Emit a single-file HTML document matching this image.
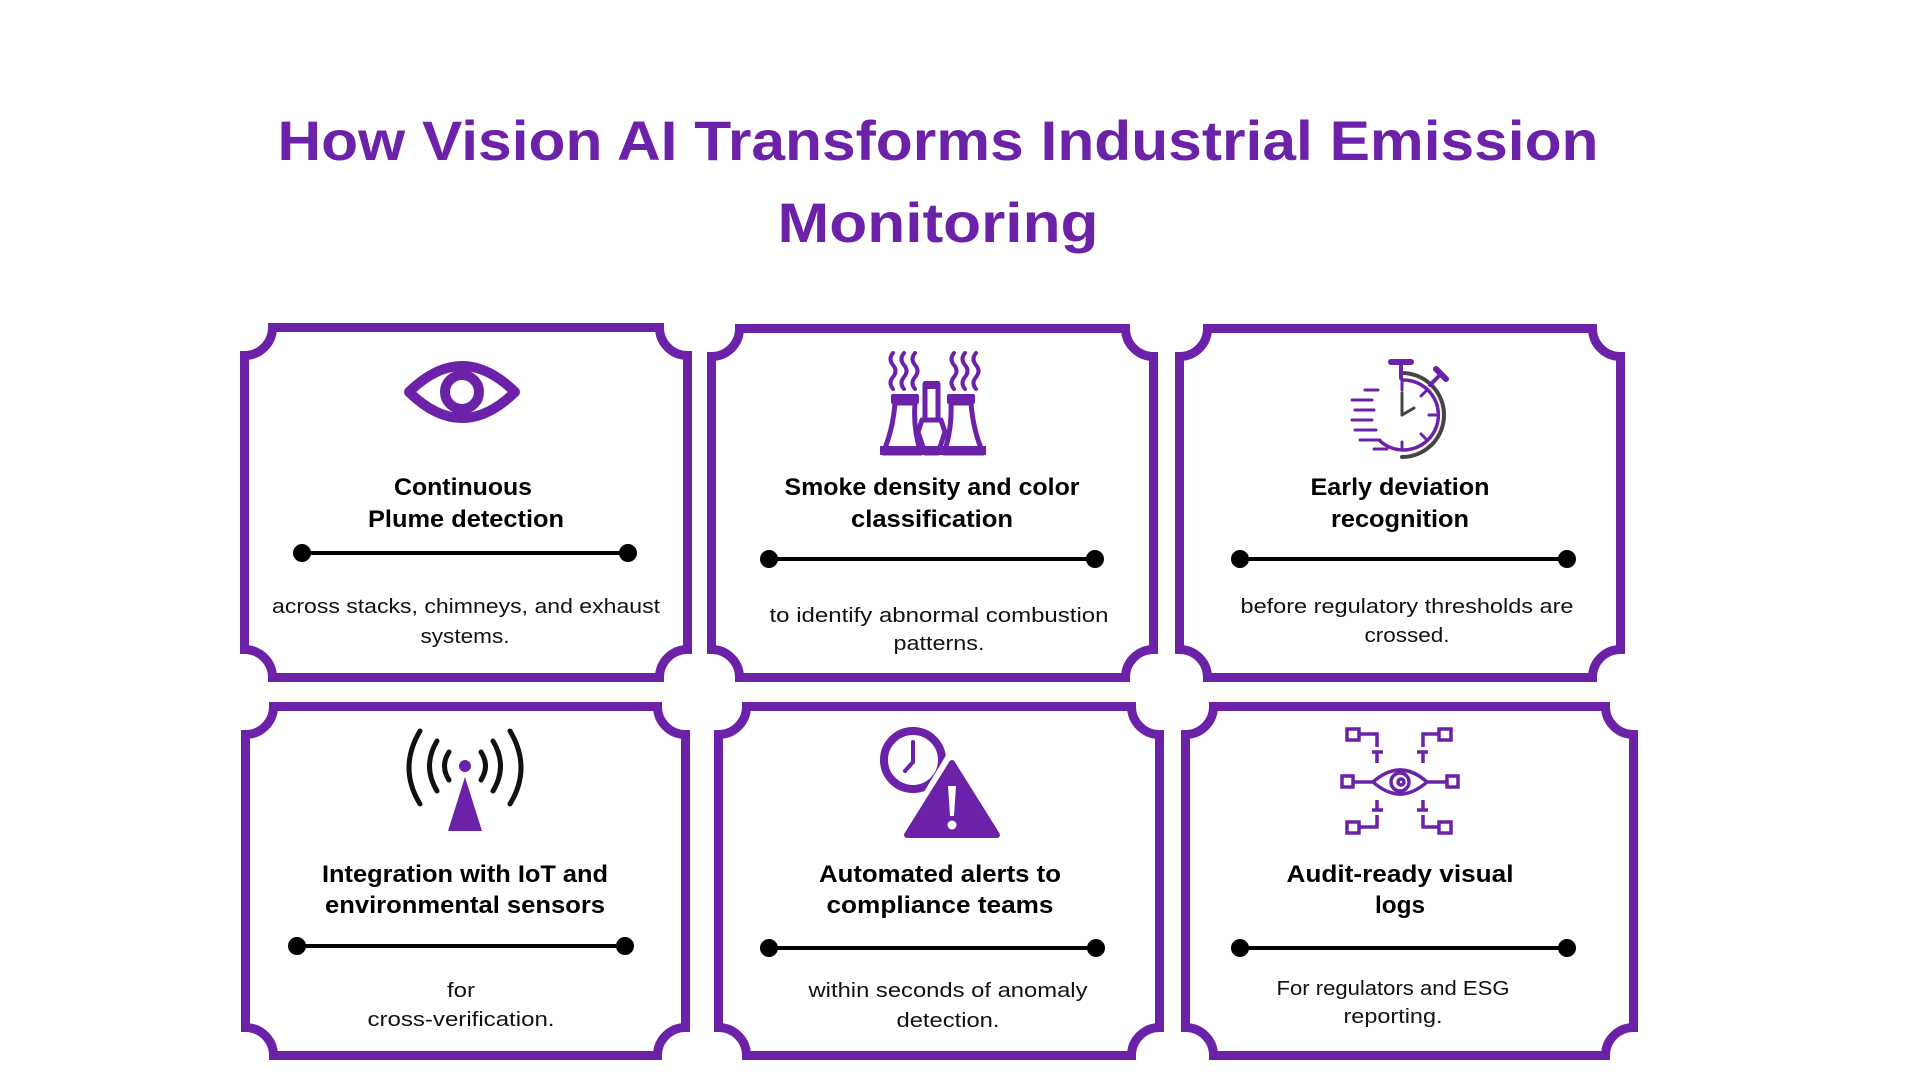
<!DOCTYPE html>
<html><head><meta charset="utf-8"><style>
html,body{margin:0;padding:0;background:#fff;}
svg{display:block}
text{font-family:"Liberation Sans",sans-serif;}
.t{font-weight:bold;font-size:24px;fill:#000;text-anchor:middle}
.b{font-size:20px;fill:#111;text-anchor:middle}
</style></head><body>
<svg width="1920" height="1080" viewBox="0 0 1920 1080" xmlns="http://www.w3.org/2000/svg">
<rect width="1920" height="1080" fill="#fff"/>
<text x="938" y="160" font-size="56" font-weight="bold" fill="#6B22A8" text-anchor="middle" textLength="1321" lengthAdjust="spacingAndGlyphs">How Vision AI Transforms Industrial Emission</text>
<text x="938" y="242" font-size="56" font-weight="bold" fill="#6B22A8" text-anchor="middle" textLength="321" lengthAdjust="spacingAndGlyphs">Monitoring</text>

<g fill="none" stroke="#6B22A8" stroke-width="9">
<path d="M272.5,327.5 H659.5 A28,28 0 0 0 687.5,355.5 V649.5 A28,28 0 0 0 659.5,677.5 H272.5 A28,28 0 0 0 244.5,649.5 V355.5 A28,28 0 0 0 272.5,327.5 Z"/>
<path d="M739.5,328.5 H1125.5 A28,28 0 0 0 1153.5,356.5 V649.5 A28,28 0 0 0 1125.5,677.5 H739.5 A28,28 0 0 0 711.5,649.5 V356.5 A28,28 0 0 0 739.5,328.5 Z"/>
<path d="M1207.5,328.5 H1592.5 A28,28 0 0 0 1620.5,356.5 V649.5 A28,28 0 0 0 1592.5,677.5 H1207.5 A28,28 0 0 0 1179.5,649.5 V356.5 A28,28 0 0 0 1207.5,328.5 Z"/>
<path d="M273.5,706.5 H657.5 A28,28 0 0 0 685.5,734.5 V1027.5 A28,28 0 0 0 657.5,1055.5 H273.5 A28,28 0 0 0 245.5,1027.5 V734.5 A28,28 0 0 0 273.5,706.5 Z"/>
<path d="M746.5,706.5 H1131.5 A28,28 0 0 0 1159.5,734.5 V1027.5 A28,28 0 0 0 1131.5,1055.5 H746.5 A28,28 0 0 0 718.5,1027.5 V734.5 A28,28 0 0 0 746.5,706.5 Z"/>
<path d="M1213.5,706.5 H1605.5 A28,28 0 0 0 1633.5,734.5 V1027.5 A28,28 0 0 0 1605.5,1055.5 H1213.5 A28,28 0 0 0 1185.5,1027.5 V734.5 A28,28 0 0 0 1213.5,706.5 Z"/>
</g>

<g stroke="#000" stroke-width="4" fill="#000">
<line x1="302" y1="553" x2="628" y2="553"/><circle cx="302" cy="553" r="7"/><circle cx="628" cy="553" r="7"/>
<line x1="769" y1="559" x2="1095" y2="559"/><circle cx="769" cy="559" r="7"/><circle cx="1095" cy="559" r="7"/>
<line x1="1240" y1="559" x2="1567" y2="559"/><circle cx="1240" cy="559" r="7"/><circle cx="1567" cy="559" r="7"/>
<line x1="297" y1="946" x2="625" y2="946"/><circle cx="297" cy="946" r="7"/><circle cx="625" cy="946" r="7"/>
<line x1="769" y1="948" x2="1096" y2="948"/><circle cx="769" cy="948" r="7"/><circle cx="1096" cy="948" r="7"/>
<line x1="1240" y1="948" x2="1567" y2="948"/><circle cx="1240" cy="948" r="7"/><circle cx="1567" cy="948" r="7"/>
</g>

<text class="t" x="463" y="495" textLength="138" lengthAdjust="spacingAndGlyphs">Continuous</text>
<text class="t" x="466" y="527" textLength="196" lengthAdjust="spacingAndGlyphs">Plume detection</text>
<text class="b" x="466" y="613" textLength="388" lengthAdjust="spacingAndGlyphs">across stacks, chimneys, and exhaust</text>
<text class="b" x="465" y="643" textLength="89" lengthAdjust="spacingAndGlyphs">systems.</text>

<text class="t" x="932" y="495" textLength="295" lengthAdjust="spacingAndGlyphs">Smoke density and color</text>
<text class="t" x="932" y="527" textLength="162" lengthAdjust="spacingAndGlyphs">classification</text>
<text class="b" x="939" y="622" textLength="339" lengthAdjust="spacingAndGlyphs">to identify abnormal combustion</text>
<text class="b" x="939" y="650" textLength="91" lengthAdjust="spacingAndGlyphs">patterns.</text>

<text class="t" x="1400" y="495" textLength="179" lengthAdjust="spacingAndGlyphs">Early deviation</text>
<text class="t" x="1400" y="527" textLength="138" lengthAdjust="spacingAndGlyphs">recognition</text>
<text class="b" x="1407" y="613" textLength="333" lengthAdjust="spacingAndGlyphs">before regulatory thresholds are</text>
<text class="b" x="1407" y="642" textLength="85" lengthAdjust="spacingAndGlyphs">crossed.</text>

<text class="t" x="465" y="882" textLength="286" lengthAdjust="spacingAndGlyphs">Integration with IoT and</text>
<text class="t" x="465" y="913" textLength="280" lengthAdjust="spacingAndGlyphs">environmental sensors</text>
<text class="b" x="461" y="997" textLength="28" lengthAdjust="spacingAndGlyphs">for</text>
<text class="b" x="461" y="1026" textLength="187" lengthAdjust="spacingAndGlyphs">cross-verification.</text>

<text class="t" x="940" y="882" textLength="242" lengthAdjust="spacingAndGlyphs">Automated alerts to</text>
<text class="t" x="940" y="913" textLength="227" lengthAdjust="spacingAndGlyphs">compliance teams</text>
<text class="b" x="948" y="997" textLength="279" lengthAdjust="spacingAndGlyphs">within seconds of anomaly</text>
<text class="b" x="948" y="1027" textLength="103" lengthAdjust="spacingAndGlyphs">detection.</text>

<text class="t" x="1400" y="882" textLength="227" lengthAdjust="spacingAndGlyphs">Audit-ready visual</text>
<text class="t" x="1400" y="913" textLength="50" lengthAdjust="spacingAndGlyphs">logs</text>
<text class="b" x="1393" y="995" textLength="233" lengthAdjust="spacingAndGlyphs">For regulators and ESG</text>
<text class="b" x="1393" y="1023" textLength="99" lengthAdjust="spacingAndGlyphs">reporting.</text>

<g fill="none" stroke="#6B22A8" stroke-width="10">
<path d="M409,392 Q462,340 515,392 Q462,444 409,392 Z" stroke-linejoin="round"/>
<circle cx="462" cy="392" r="17"/>
</g>

<g fill="none" stroke="#6B22A8" stroke-width="4" stroke-linecap="round">
<path d="M893,353 q-5,6 0,12 q5,6 0,12 q-5,6 0,12"/>
<path d="M904,353 q-5,6 0,12 q5,6 0,12 q-5,6 0,12"/>
<path d="M915,353 q-5,6 0,12 q5,6 0,12 q-5,6 0,12"/>
<path d="M954,353 q-5,6 0,12 q5,6 0,12 q-5,6 0,12"/>
<path d="M965,353 q-5,6 0,12 q5,6 0,12 q-5,6 0,12"/>
<path d="M976,353 q-5,6 0,12 q5,6 0,12 q-5,6 0,12"/>
</g>
<g fill="#fff" stroke="#6B22A8" stroke-width="5" stroke-linejoin="round">
<path d="M895,403 H915 Q913,430 921,453 H883 Q893,430 895,403 Z"/>
<path d="M951,403 H971 Q973,430 983,453 H944 Q952,430 951,403 Z"/>
<rect x="925" y="384" width="13" height="36"/>
<path d="M922,420 H941 L945,432 L938,453 H925 L918,432 Z"/>
</g>
<g fill="#6B22A8">
<rect x="891" y="394" width="28" height="10" rx="2"/>
<rect x="947" y="394" width="28" height="10" rx="2"/>
<rect x="923" y="381" width="17" height="8" rx="2"/>
<rect x="880" y="446" width="106" height="9"/>
</g>

<g fill="none" stroke-linecap="round">
<path d="M1402,373 A42,42 0 0 1 1402,457" stroke="#444" stroke-width="4"/>
<path d="M1402,380 A35,35 0 1 1 1380,441" stroke="#6B22A8" stroke-width="3.5"/>
<g stroke="#6B22A8" stroke-width="3">
<line x1="1402" y1="382" x2="1402" y2="390"/><line x1="1437" y1="415" x2="1429" y2="415"/>
<line x1="1402" y1="450" x2="1402" y2="442"/><line x1="1427" y1="390" x2="1421" y2="396"/>
<line x1="1427" y1="440" x2="1421" y2="434"/>
<line x1="1352" y1="400" x2="1372" y2="400"/><line x1="1355" y1="410" x2="1374" y2="410"/>
<line x1="1352" y1="420" x2="1372" y2="420"/><line x1="1355" y1="430" x2="1376" y2="430"/>
<line x1="1360" y1="440" x2="1380" y2="440"/><line x1="1365" y1="390" x2="1378" y2="390"/>
<line x1="1374" y1="449" x2="1387" y2="449"/>
</g>
<g stroke="#444" stroke-width="3"><line x1="1402" y1="415" x2="1402" y2="393"/><line x1="1402" y1="415" x2="1414" y2="408"/></g>
<line x1="1401" y1="365" x2="1401" y2="378" stroke="#6B22A8" stroke-width="4"/>
<line x1="1391" y1="362" x2="1411" y2="362" stroke="#6B22A8" stroke-width="6"/>
<line x1="1430" y1="385" x2="1440" y2="375" stroke="#6B22A8" stroke-width="4"/>
<line x1="1436" y1="369" x2="1446" y2="379" stroke="#6B22A8" stroke-width="6"/>
</g>

<g fill="none" stroke="#111" stroke-width="5" stroke-linecap="round">
<path d="M449,752 Q440,766 449,780"/><path d="M481,752 Q490,766 481,780"/>
<path d="M437,741 Q422,766 437,791"/><path d="M493,741 Q508,766 493,791"/>
<path d="M420,731 Q398,768 420,804"/><path d="M510,731 Q532,768 510,804"/>
</g>
<circle cx="465" cy="766" r="6" fill="#6B22A8"/>
<path d="M465,777 L482,831 H448 Z" fill="#6B22A8"/>

<circle cx="913" cy="760" r="29" fill="none" stroke="#6B22A8" stroke-width="8"/>
<g stroke="#6B22A8" stroke-width="4" stroke-linecap="round"><line x1="913" y1="742" x2="913" y2="762"/><line x1="913" y1="762" x2="905" y2="771"/></g>
<path d="M952,755 L1006,845 H898 Z" fill="#fff" stroke="#fff" stroke-width="10" stroke-linejoin="round"/>
<path d="M952,763 L997,835 H907 Z" fill="#6B22A8" stroke="#6B22A8" stroke-width="6" stroke-linejoin="round"/>
<path d="M948,786 H956 L954,816 H950 Z" fill="#fff"/>
<circle cx="952" cy="825" r="4.5" fill="#fff"/>

<g fill="none" stroke="#6B22A8" stroke-width="3.5">
<path d="M1373,782 Q1400,758 1427,782 Q1400,806 1373,782 Z"/>
<circle cx="1400" cy="782" r="9"/><circle cx="1401" cy="782" r="3"/>
<rect x="1347" y="729" width="12" height="11"/><rect x="1439" y="729" width="12" height="11"/>
<rect x="1342" y="776" width="11" height="11"/><rect x="1447" y="776" width="11" height="11"/>
<rect x="1347" y="822" width="12" height="11"/><rect x="1439" y="822" width="12" height="11"/>
<path d="M1359,734 H1377 V747 M1372,752 H1383 M1377,752 V763"/>
<path d="M1439,734 H1423 V747 M1428,752 H1417 M1423,752 V763"/>
<path d="M1359,827 H1377 V815 M1372,810 H1383 M1377,810 V800"/>
<path d="M1439,827 H1423 V815 M1428,810 H1417 M1423,810 V800"/>
<line x1="1353" y1="782" x2="1373" y2="782"/><line x1="1427" y1="782" x2="1447" y2="782"/>
</g>
</svg>
</body></html>
